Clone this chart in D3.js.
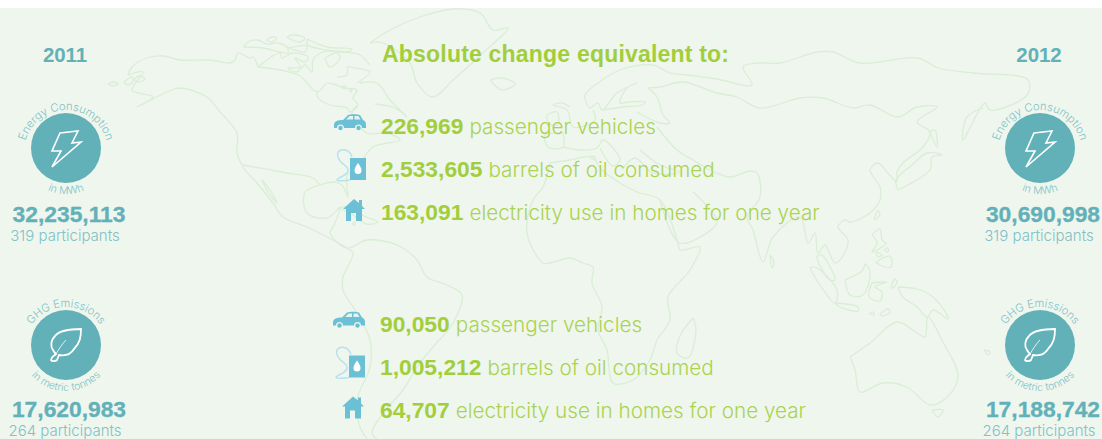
<!DOCTYPE html>
<html>

<head>
    <meta charset="utf-8">
    <style>
        html, body { margin: 0; padding: 0; background: #fff; overflow: hidden; }
        svg { display: block; }
        text { font-family: 'Liberation Sans', Arial, sans-serif; }
        .big { font-weight: 700; }
        .light { font-family: Inter, Roboto, 'Liberation Sans', sans-serif; font-weight: 300; }
    </style>
    <title>Absolute change equivalent</title>
</head>

<body>
    <svg width="1102" height="439"></svg>
</body>

<script src="https://d3js.org/d3.v7.min.js"></script>

<script>
    let years = ["2011", "2012"];
    let measures = ["Energy Consumption", "GHG Emissions"];
    let units = ["in MWh", "in metric tonnes"];
    let totals2011 = ["32,235,113", "17,620,983"];
    let totals2012 = ["30,690,998", "17,188,742"];
    let participants = ["319 participants", "264 participants"];
    let heading = "Absolute change equivalent to:";
    let equivalents = ["passenger vehicles", "barrels of oil consumed", "electricity use in homes for one year"];
    let energyChange = ["226,969", "2,533,605", "163,091"];
    let ghgChange = ["90,050", "1,005,212", "64,707"];

    const green = "#a2ce3c", greenLight = "#aad34f", teal = "#62b1b8", tealLight = "#80c2c6";
    const blue = "#6cc0d6", blueLight = "#b8e1ee", landLine = "#d9eed5";

    // hand traced coast lines, in picture pixels
    let coasts = [
        // alaska and north america west side
        [[128,75],[133,66],[147,58],[163,56],[180,60],[210,60],[230,63],[235,60],[238,53],[250,58],[253,57],[258,67]],
        [[128,75],[143,72],[132,90],[153,97],[137,107],[167,92],[180,88],[207,97],[220,112],[237,133],[237,153],[243,167],[257,183],[273,203],[283,217],[307,227],[327,237],[347,248],[353,253],[343,277],[343,290],[357,313],[370,340],[370,367],[357,400],[360,427],[367,439]],
        [[134,79],[140,76],[145,79],[138,82],[134,79]],
        [[108,84],[114,82],[118,84],[113,86],[108,84]],
        [[124,82],[132,77],[133,81],[128,85],[124,82]],
        // arctic islands
        [[243,47],[250,41],[258,40],[267,44],[278,43],[287,47],[288,53],[280,52],[263,48],[243,47]],
        [[266,40],[272,37],[277,38],[272,42],[266,40]],
        [[287,37],[293,35],[305,38],[300,42],[290,39],[287,37]],
        [[307,39],[327,47],[352,49],[347,52],[327,50],[308,45],[307,39]],
        [[288,48],[307,46],[305,52],[295,50],[288,48]],
        [[258,67],[280,53],[282,58],[293,53],[308,57],[305,62],[295,58],[300,67],[288,68],[297,72],[305,65],[312,72],[313,60],[323,52],[353,53],[360,55],[370,65]],
        [[325,58],[337,53],[340,58],[330,67],[325,58]],
        [[337,77],[347,75],[348,67],[355,68],[370,72],[357,83]],
        [[341,87],[345,86],[345,89],[341,87]],
        [[349,90],[352,89],[351,92],[349,90]],
        // hudson bay and the east side
        [[258,67],[280,70],[300,76],[317,92],[327,83],[333,84],[345,88],[357,90],[353,98],[358,105],[350,112],[347,108],[330,105],[318,98],[317,92]],
        [[358,105],[352,113],[367,133],[387,133],[400,140],[373,147],[357,167],[347,176],[347,187],[348,197],[342,185],[333,182],[320,185],[305,192],[307,213],[327,218],[340,208],[333,227],[330,233],[347,248],[367,240],[397,245],[417,260],[427,277],[447,285],[462,295],[453,323],[433,347],[417,367],[403,390],[383,413],[372,433],[377,439]],
        [[360,83],[377,83],[390,100],[407,117],[395,108],[375,104]],
        [[243,165],[287,173],[313,178],[320,185]],
        [[262,180],[270,190],[277,203],[268,192],[262,180]],
        [[338,208],[352,207],[364,216],[378,222],[366,224],[352,214],[338,208]],
        [[352,224],[355,222],[355,225],[352,224]],
        // greenland, iceland
        [[370,43],[390,30],[420,17],[453,9],[480,13],[493,30],[508,28],[483,53],[453,80],[433,97],[417,83],[410,63],[383,43],[370,43]],
        [[490,80],[502,78],[515,84],[502,90],[490,80]],
        // africa
        [[550,163],[543,187],[533,200],[527,233],[543,263],[550,263],[570,258],[583,263],[593,267],[592,283],[602,307],[598,330],[607,350],[613,383],[633,380],[650,360],[657,340],[670,320],[668,297],[690,270],[700,247],[680,250],[678,243],[660,200],[637,192],[620,183],[600,168],[593,157],[570,160],[550,163]],
        [[693,318],[696,330],[688,358],[677,353],[680,336],[693,318]],
        // scandinavia, north coast of asia
        [[587,105],[585,95],[598,83],[620,70],[653,65],[670,73],[687,75],[717,79],[752,85],[743,67],[757,63],[780,63],[817,52],[833,52],[860,63],[918,58],[938,68],[973,73],[1028,80],[1027,95],[990,110],[985,103],[963,140],[967,117],[983,108]],
        [[587,105],[590,108],[598,103],[602,110],[617,93],[637,83],[627,88],[620,103],[628,102],[645,102],[642,105],[623,107],[602,110]],
        // russia line, asia south coast
        [[648,88],[660,87],[683,82],[717,93],[737,97],[760,108],[800,98],[823,98],[853,108],[870,105],[898,117],[917,107],[937,107],[917,122],[930,132],[923,147],[903,163],[897,172],[897,182],[888,173],[878,163],[870,170],[880,187],[880,200],[870,213],[850,222],[845,220],[838,227],[848,240],[845,252],[835,263],[825,245],[818,253],[815,233],[808,243],[800,217],[773,237],[763,262],[753,230],[747,217],[760,197],[757,173],[750,171],[730,177],[710,170],[693,160],[677,150],[657,127]],
        [[648,88],[657,97],[663,115],[670,123],[660,123],[637,112]],
        [[660,200],[680,243],[717,223],[713,213],[693,192]],
        // europe
        [[593,110],[595,120],[573,127],[567,110],[553,105],[562,103],[570,107]],
        [[547,115],[557,112],[558,125],[548,123],[547,115]],
        [[563,133],[563,147],[548,147],[545,135],[563,133]],
        [[563,147],[580,150],[597,148],[603,140],[620,160],[613,166],[600,148]],
        [[622,170],[635,158],[653,173],[680,172],[660,165],[640,150]],
        [[590,158],[594,156],[595,160],[590,158]],
        // japan, sakhalin, taiwan
        [[898,190],[930,170],[932,157],[942,155],[927,153],[912,165],[896,180],[898,190]],
        [[930,132],[937,147],[935,130],[930,132]],
        [[874,219],[878,211],[880,214],[876,219],[874,219]],
        // south east asia
        [[818,255],[822,255],[835,280],[830,280],[817,258],[818,255]],
        [[810,268],[815,267],[837,290],[835,303],[820,285],[810,268]],
        [[835,303],[858,307],[858,311],[840,307],[835,303]],
        [[845,280],[863,270],[865,264],[870,272],[863,295],[850,295],[845,280]],
        [[872,283],[887,282],[875,287],[882,292],[880,301],[869,297],[872,283]],
        [[872,235],[880,229],[882,240],[886,243],[872,252],[877,243],[872,235]],
        [[876,252],[882,255],[878,257],[876,252]],
        [[884,250],[888,248],[888,252],[884,250]],
        [[876,262],[890,256],[891,267],[880,265],[876,262]],
        [[891,287],[895,279],[897,282],[893,288],[891,287]],
        [[898,287],[917,289],[933,297],[947,315],[948,319],[933,310],[927,317],[917,307],[903,297],[898,287]],
        [[880,314],[888,309],[890,312],[882,316],[880,314]],
        [[869,314],[873,312],[874,315],[869,314]],
        [[770,255],[774,262],[772,268],[770,255]],
        // australia
        [[850,357],[870,343],[897,322],[917,333],[925,337],[928,317],[942,340],[958,377],[947,397],[930,405],[907,387],[883,383],[860,392],[855,370],[850,357]],
        [[932,410],[943,410],[938,417],[932,410]],
        [[984,350],[990,352],[988,355],[984,350]]
    ];

    let svg = d3.select("svg");

    svg.append("rect")
        .attr("y", 8)
        .attr("width", 1102)
        .attr("height", 431)
        .attr("fill", "#eff6ee");

    let coastLine = d3.line().curve(d3.curveCatmullRom.alpha(0.5));

    svg.append("g")
        .selectAll("path")
        .data(coasts)
        .join("path")
        .attr("d", coastLine)
        .attr("fill", "none")
        .attr("stroke", landLine)
        .attr("stroke-width", 1.3);

    // icon shapes, drawn round their own origin
    const boltPath = "M-6,-15 L12,-17 L6,-5 L15,-6 L-14,19 L-5,3 L-14,3 Z";
    const leafPath = "M15,-16 C6,-16 -6,-15 -11,-9 C-15,-5 -16,1 -13,5 C-12,7 -11,8 -10,9 C-12,11 -15,12 -15,15 C-14,17 -10,16 -9,15 L-7,10 C-1,11 5,9 8,4 C14,-2 15,-8 15,-16 Z";
    const leafVein = "M-10,9 C-7,4 -4,-1 0,-5";
    const carPath = "M-16,2 C-16,-2 -12,-3 -7,-3 L-2,-8 C0,-9 8,-9 10,-8 L13,-3 C15,-2 16,-1 16,2 L16,5 L12,5 A3.4,3.4 0 0 0 5,5 L-6,5 A3.4,3.4 0 0 0 -13,5 L-16,5 Z";
    const carGlass = "M-4,-3.5 L-0.5,-7 L3,-7 L3,-3.5 Z M4.5,-7 L8.5,-7 L10.5,-3.5 L4.5,-3.5 Z";
    const housePath = "M0,-11 L5,-7 L5,-10 L8,-10 L8,-4 L11,-1 L8,-1 L8,11 L2,11 L2,3 L-3,3 L-3,11 L-8,11 L-8,-1 L-11,-1 Z";
    const dropPath = "M0,-6 C2,-3 3.5,-1 3.5,1.5 A3.5,3.5 0 0 1 -3.5,1.5 C-3.5,-1 -2,-3 0,-6 Z";
    const hosePath = "M2,-20 C0,-27 -6,-28 -9,-27 C-14,-25 -13,-19 -9,-15 C-5,-11 -1,-10 -2,-6 C-3,-1 -12,0 -13,3 C-12,4 -4,4 0,3";

    // columns left and right
    let columnX = d3.scalePoint().domain(years).range([66, 1040]);
    let badgeY = d3.scalePoint().domain(measures).range([148, 345]);
    let defs = svg.append("defs");

    function badge(year, totals) {
        let x = columnX(year);
        let g = svg.append("g");

        measures.forEach((m, k) => {
            let cy = badgeY(m);
            let id = `${year}-${k}`;

            defs.append("path")
                .attr("id", `top-${id}`)
                .attr("d", `M${x - 42},${cy + 4} A42,42 0 0 1 ${x + 42},${cy + 4}`);
            defs.append("path")
                .attr("id", `bot-${id}`)
                .attr("d", `M${x - 46},${cy} A46,46 0 0 0 ${x + 46},${cy}`);

            g.append("circle")
                .attr("cx", x)
                .attr("cy", cy)
                .attr("r", 35)
                .attr("fill", teal);

            if (k == 0) {
                g.append("path")
                    .attr("d", boltPath)
                    .attr("transform", `translate(${x},${cy})`)
                    .attr("fill", "none")
                    .attr("stroke", "#fff")
                    .attr("stroke-width", 1.6);
            } else {
                g.append("path")
                    .attr("d", leafPath)
                    .attr("transform", `translate(${x},${cy})`)
                    .attr("fill", "none")
                    .attr("stroke", "#fff")
                    .attr("stroke-width", 1.8);
                g.append("path")
                    .attr("d", leafVein)
                    .attr("transform", `translate(${x},${cy})`)
                    .attr("fill", "none")
                    .attr("stroke", "#fff")
                    .attr("stroke-width", 0.8);
            }

            g.append("text")
                .attr("class", "light")
                .attr("font-size", 11.2)
                .attr("fill", tealLight)
                .attr("text-anchor", "middle")
                .append("textPath")
                .attr("href", `#top-${id}`)
                .attr("startOffset", "50%")
                .text(m);

            g.append("text")
                .attr("class", "light")
                .attr("font-size", 10.5)
                .attr("fill", tealLight)
                .attr("text-anchor", "middle")
                .append("textPath")
                .attr("href", `#bot-${id}`)
                .attr("startOffset", "50%")
                .text(units[k]);

            g.append("text")
                .attr("class", "big")
                .attr("x", x + 3)
                .attr("y", k ? cy + 72 : cy + 74)
                .attr("font-size", 22.8)
                .attr("fill", teal)
                .attr("stroke", teal)
                .attr("stroke-width", 0.3)
                .attr("text-anchor", "middle")
                .text(totals[k]);

            g.append("text")
                .attr("class", "light")
                .attr("x", x - 1)
                .attr("y", k ? cy + 91 : cy + 93)
                .attr("font-size", 15)
                .attr("fill", tealLight)
                .attr("text-anchor", "middle")
                .text(participants[k]);
        });

        g.append("text")
            .attr("class", "big")
            .attr("x", x - 1)
            .attr("y", 62)
            .attr("font-size", 20.4)
            .attr("fill", teal)
            .attr("text-anchor", "middle")
            .text(year);
    }

    badge(years[0], totals2011);
    badge(years[1], totals2012);

    svg.append("text")
        .attr("class", "big")
        .attr("x", 382)
        .attr("y", 62)
        .attr("font-size", 23)
        .attr("letter-spacing", 0.2)
        .attr("fill", green)
        .text(heading);

    // the two middle blocks
    let rowY = d3.scalePoint().domain(d3.range(3)).range([134, 220]);

    function block(values, shift) {
        values.forEach((v, i) => {
            let y = rowY(i) + shift;

            let t = svg.append("text")
                .attr("x", 381 - (shift ? 1 : 0))
                .attr("y", y)
                .attr("font-size", 22.8)
                .attr("fill", greenLight);

            t.append("tspan")
                .attr("class", "big")
                .attr("fill", green)
                .text(v);

            t.append("tspan")
                .attr("class", "light")
                .attr("font-size", 20.7)
                .attr("dx", 6)
                .text(equivalents[i]);

            let ix = 350 - (shift ? 1 : 0);
            if (i == 0) {
                svg.append("path")
                    .attr("d", carPath)
                    .attr("transform", `translate(${ix},${y - 11})`)
                    .attr("fill", blue);
                svg.append("path")
                    .attr("d", carGlass)
                    .attr("transform", `translate(${ix},${y - 11})`)
                    .attr("fill", "#e3f3f2");
                svg.selectAll(null)
                    .data([-9.5, 8.5])
                    .join("circle")
                    .attr("cx", d => ix + d)
                    .attr("cy", y - 6)
                    .attr("r", 2.2)
                    .attr("fill", blue);
            } else if (i == 1) {
                svg.append("path")
                    .attr("d", hosePath)
                    .attr("transform", `translate(${ix},${y})`)
                    .attr("fill", "none")
                    .attr("stroke", blueLight)
                    .attr("stroke-width", 1.5);
                svg.append("rect")
                    .attr("x", ix)
                    .attr("y", y - 19)
                    .attr("width", 16)
                    .attr("height", 22)
                    .attr("fill", blue);
                svg.append("path")
                    .attr("d", dropPath)
                    .attr("transform", `translate(${ix + 8},${y - 8})`)
                    .attr("fill", "#fff");
            } else {
                svg.append("path")
                    .attr("d", housePath)
                    .attr("transform", `translate(${ix + 4},${y - 10})`)
                    .attr("fill", blue);
            }
        });
    }

    block(energyChange, 0);
    block(ghgChange, 197.5);
</script>

</html>
